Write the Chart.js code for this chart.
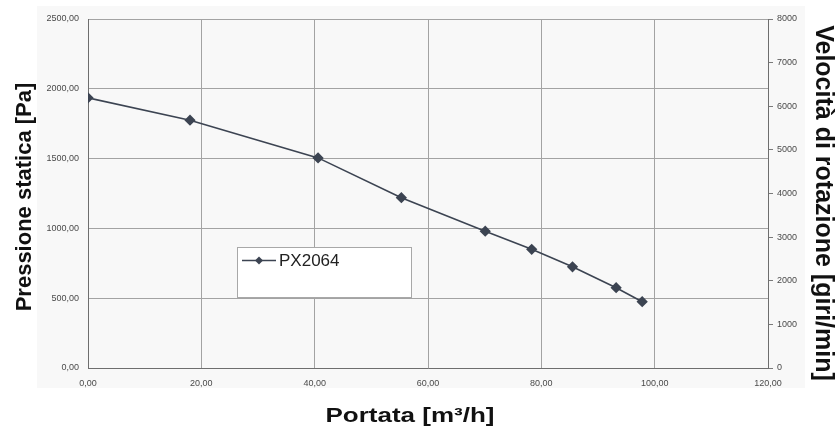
<!DOCTYPE html>
<html>
<head>
<meta charset="utf-8">
<script src="https://cdn.jsdelivr.net/npm/chart.js@4"></script>
<style>
  html, body { margin: 0; padding: 0; background: #fff; }
  #wrap { width: 839px; height: 432px; }
</style>
</head>
<body>
<div id="wrap"><canvas id="fanChart" width="839" height="432"></canvas></div>
<script>
// Portata [m3/h] vs pressione statica [Pa]
const portata = [0, 18, 40.6, 55.3, 70.1, 78.3, 85.5, 93.2, 97.8];
const pressione = [1935, 1775, 1505, 1220, 980, 850, 725, 575, 475];
const seriesName = 'PX2064';

const xTicks = [0, 20, 40, 60, 80, 100, 120];
const yTicks = [0, 500, 1000, 1500, 2000, 2500];
const rpmTicks = [0, 1000, 2000, 3000, 4000, 5000, 6000, 7000, 8000];

const xTitle = 'Portata [m\u00b3/h]';
const yTitle = 'Pressione statica [Pa]';
const rpmTitle = 'Velocit\u00e0 di rotazione [giri/min]';

document.addEventListener('DOMContentLoaded', function() {
    const lineColor = '#3c4452';
    const gridColor = '#a3a3a3';
    const tickFont = { family: 'Arial, "Liberation Sans", sans-serif', size: 9 };
    const comma = v => v.toFixed(2).replace('.', ',');

    const points = portata.map((x, i) => ({ x: x, y: pressione[i] }));

    // light grey paper behind the plot, like the scanned sheet
    const paperPlugin = {
        id: 'paper',
        beforeDraw(chart) {
            const ctx = chart.ctx;
            ctx.save();
            ctx.fillStyle = '#ffffff';
            ctx.fillRect(0, 0, chart.width, chart.height);
            ctx.fillStyle = '#f8f8f8';
            ctx.fillRect(37, 6, 768, 382);
            ctx.restore();
        }
    };

    // axis titles and legend box drawn by hand so they sit where the original has them
    const titlesPlugin = {
        id: 'titles',
        afterDraw(chart) {
            const ctx = chart.ctx;
            const bold = 'bold {s}px Arial, "Liberation Sans", sans-serif';
            ctx.save();
            ctx.fillStyle = '#111';
            ctx.textAlign = 'center';
            ctx.textBaseline = 'alphabetic';

            ctx.save();
            ctx.font = bold.replace('{s}', 20);
            ctx.translate(410, 422);
            ctx.scale(1.3, 1);
            ctx.fillText(xTitle, 0, 0);
            ctx.restore();

            ctx.save();
            ctx.font = bold.replace('{s}', 22);
            ctx.translate(31, 197);
            ctx.rotate(-Math.PI / 2);
            ctx.fillText(yTitle, 0, 0);
            ctx.restore();

            ctx.save();
            ctx.font = bold.replace('{s}', 25);
            ctx.translate(816, 203);
            ctx.rotate(Math.PI / 2);
            ctx.fillText(rpmTitle, 0, 0);
            ctx.restore();

            // legend
            ctx.fillStyle = '#ffffff';
            ctx.fillRect(237.5, 247.5, 174, 50);
            ctx.strokeStyle = '#a8a8a8';
            ctx.lineWidth = 1;
            ctx.strokeRect(237.5, 247.5, 174, 50);
            ctx.strokeStyle = lineColor;
            ctx.lineWidth = 1.5;
            ctx.beginPath();
            ctx.moveTo(242, 260.5);
            ctx.lineTo(276, 260.5);
            ctx.stroke();
            ctx.fillStyle = lineColor;
            ctx.beginPath();
            ctx.moveTo(259, 256.5);
            ctx.lineTo(263, 260.5);
            ctx.lineTo(259, 264.5);
            ctx.lineTo(255, 260.5);
            ctx.closePath();
            ctx.fill();
            ctx.fillStyle = '#222';
            ctx.font = '17px Arial, "Liberation Sans", sans-serif';
            ctx.textAlign = 'left';
            ctx.textBaseline = 'middle';
            ctx.fillText(seriesName, 279, 261);
            ctx.restore();
        }
    };

    const ctx = document.getElementById('fanChart').getContext('2d');
    const fanChart = new Chart(ctx, {
        type: 'line',
        data: {
            datasets: [{
                label: seriesName,
                data: points,
                borderColor: lineColor,
                backgroundColor: lineColor,
                borderWidth: 1.6,
                pointStyle: 'rectRot',
                pointRadius: 4.5,
                pointHoverRadius: 4.5,
                tension: 0,
                fill: false,
                yAxisID: 'y'
            }]
        },
        options: {
            responsive: false,
            animation: false,
            layout: { padding: { top: 19, left: 0, right: 0, bottom: 0 } },
            plugins: {
                legend: { display: false },
                tooltip: { enabled: false }
            },
            scales: {
                x: {
                    type: 'linear',
                    min: xTicks[0],
                    max: xTicks[xTicks.length - 1],
                    afterBuildTicks: axis => { axis.ticks = xTicks.map(v => ({ value: v })); },
                    afterFit: axis => { axis.height = 64; },
                    grid: { color: gridColor, drawTicks: false },
                    border: { color: '#6e6e6e', width: 1 },
                    ticks: {
                        color: '#4a4a4a',
                        font: tickFont,
                        padding: 10,
                        maxRotation: 0,
                        callback: v => comma(v)
                    }
                },
                y: {
                    position: 'left',
                    min: yTicks[0],
                    max: yTicks[yTicks.length - 1],
                    afterBuildTicks: axis => { axis.ticks = yTicks.map(v => ({ value: v })); },
                    afterFit: axis => { axis.width = 88; },
                    grid: { color: gridColor, drawTicks: false },
                    border: { color: '#6e6e6e', width: 1 },
                    ticks: {
                        color: '#4a4a4a',
                        font: tickFont,
                        padding: 9,
                        callback: v => comma(v)
                    }
                },
                y1: {
                    position: 'right',
                    type: 'linear',
                    min: rpmTicks[0],
                    max: rpmTicks[rpmTicks.length - 1],
                    afterBuildTicks: axis => { axis.ticks = rpmTicks.map(v => ({ value: v })); },
                    afterFit: axis => { axis.width = 71; },
                    grid: { drawOnChartArea: false, drawTicks: true, tickLength: 5, tickColor: '#7a7a7a' },
                    border: { color: '#6e6e6e', width: 1 },
                    ticks: {
                        color: '#4a4a4a',
                        font: tickFont,
                        padding: 4,
                        callback: v => String(v)
                    }
                }
            }
        },
        plugins: [paperPlugin, titlesPlugin]
    });
});
</script>
</body>
</html>
